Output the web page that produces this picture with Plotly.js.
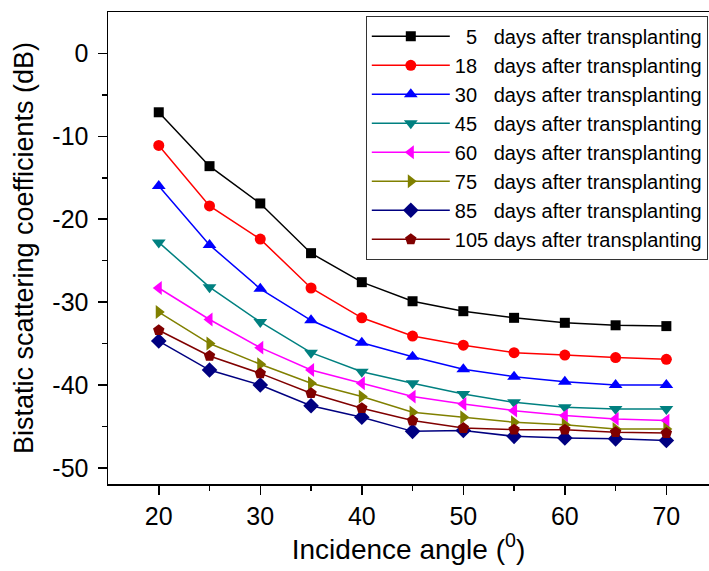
<!DOCTYPE html>
<html>
<head>
<meta charset="utf-8">
<script src="https://cdn.plot.ly/plotly-3.0.1.min.js"></script>
<style>html,body{margin:0;padding:0;background:#fff;overflow:hidden}</style>
</head>
<body>
<div id="chart" style="width:709px;height:571px"></div>
<script>
const angles = [20, 25, 30, 35, 40, 45, 50, 55, 60, 65, 70];
const d5   = [-7.1, -13.6, -18.1, -24.1, -27.6, -29.9, -31.1, -31.9, -32.5, -32.8, -32.9];
const d18  = [-11.1, -18.4, -22.4, -28.3, -31.9, -34.1, -35.2, -36.1, -36.4, -36.7, -36.9];
const d30  = [-16.0, -23.1, -28.4, -32.2, -34.9, -36.6, -38.1, -39.0, -39.6, -40.0, -40.0];
const d45  = [-22.8, -28.2, -32.4, -36.1, -38.4, -39.8, -41.1, -42.1, -42.7, -42.9, -42.9];
const d60  = [-28.3, -32.1, -35.5, -38.2, -39.8, -41.4, -42.3, -43.1, -43.7, -44.1, -44.3];
const d75  = [-31.2, -35.0, -37.5, -39.8, -41.4, -43.3, -43.9, -44.5, -44.8, -45.3, -45.3];
const d85  = [-34.7, -38.2, -40.0, -42.5, -43.9, -45.6, -45.5, -46.2, -46.4, -46.5, -46.7];
const d105 = [-33.4, -36.5, -38.6, -41.0, -42.8, -44.3, -45.2, -45.4, -45.4, -45.7, -45.8];

const xTicks = [20, 30, 40, 50, 60, 70];
const yTicks = [0, -10, -20, -30, -40, -50];
const yTickText = ["0", "-10", "-20", "-30", "-40", "-50"];

const names = [
  "\u00a0\u00a05\u00a0\u00a0\u00a0days after transplanting",
  "18\u00a0\u00a0\u00a0days after transplanting",
  "30\u00a0\u00a0\u00a0days after transplanting",
  "45\u00a0\u00a0\u00a0days after transplanting",
  "60\u00a0\u00a0\u00a0days after transplanting",
  "75\u00a0\u00a0\u00a0days after transplanting",
  "85\u00a0\u00a0\u00a0days after transplanting",
  "105 days after transplanting"
];
const series = [d5, d18, d30, d45, d60, d75, d85, d105];
const colors = ["#000000", "#FF0000", "#0000FF", "#008080", "#FF00FF", "#808000", "#000080", "#800000"];
const symbols = ["square", "circle", "triangle-up", "triangle-down", "triangle-left", "triangle-right", "diamond", "pentagon"];
const sizes = [10, 11, 12, 12, 12, 12, 12, 12];

const traces = series.map((ys, i) => ({
  x: angles, y: ys, name: names[i], type: "scatter", mode: "lines+markers",
  line: {color: colors[i], width: 1.5},
  marker: {color: colors[i], symbol: symbols[i], size: sizes[i], line: {width: 0}}
}));

const font = "Liberation Sans, Arial, sans-serif";
const layout = {
  width: 709, height: 571,
  margin: {l: 108, r: 0, t: 12, b: 87},
  paper_bgcolor: "#ffffff", plot_bgcolor: "#ffffff",
  font: {family: font, color: "#000", size: 22},
  showlegend: true,
  legend: {
    x: 0.998, y: 0.992, xanchor: "right", yanchor: "top",
    bgcolor: "#ffffff", bordercolor: "#333", borderwidth: 1,
    font: {family: font, size: 20, color: "#000"},
    itemwidth: 78, tracegroupgap: 0
  },
  xaxis: {
    range: [15, 74.2], tickvals: xTicks,
    showgrid: false, zeroline: false,
    showline: true, linecolor: "#000", linewidth: 1.5, mirror: true,
    ticks: "outside", ticklen: 9, tickwidth: 1.5, tickcolor: "#000",
    minor: {tickvals: [25, 35, 45, 55, 65], ticks: "outside", ticklen: 5, tickwidth: 1.5, tickcolor: "#000"},
    tickfont: {size: 25, family: font},
    title: {text: "Incidence angle (<sup>0</sup>)", font: {size: 28, family: font}, standoff: 6}
  },
  yaxis: {
    range: [-51.95, 5.0], tickvals: yTicks, ticktext: yTickText,
    showgrid: false, zeroline: false,
    showline: true, linecolor: "#000", linewidth: 1.5, mirror: false,
    ticks: "outside", ticklen: 9, tickwidth: 1.5, tickcolor: "#000",
    minor: {tickvals: [-5, -15, -25, -35, -45], ticks: "outside", ticklen: 5, tickwidth: 1.5, tickcolor: "#000"},
    ticklabelstandoff: 4,
    tickfont: {size: 25, family: font},
    title: {text: "Bistatic scattering coefficients (dB)", font: {size: 27, family: font}, standoff: 11}
  }
};
Plotly.newPlot("chart", traces, layout, {displayModeBar: false, staticPlot: true});
</script>
</body>
</html>
